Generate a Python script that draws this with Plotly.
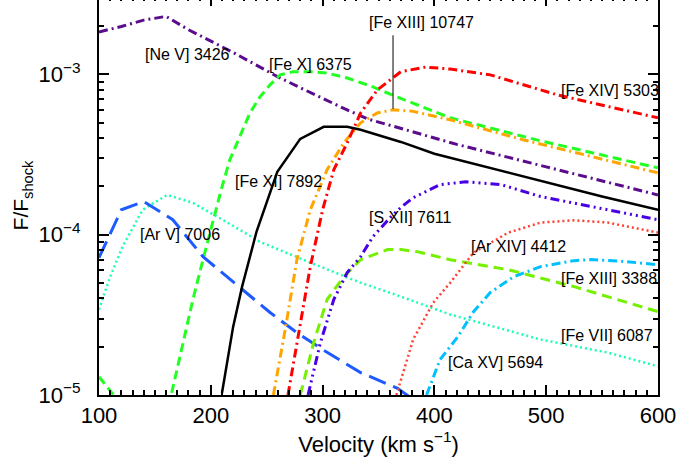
import math
import plotly.graph_objects as go

# ---------------- data ----------------
ne5_v   = [100, 120, 140, 160, 180, 200, 220, 240, 260, 280, 300, 320, 340, 380, 420, 500, 600]
ne5_f   = [1.84e-3, 1.99e-3, 2.18e-3, 2.30e-3, 1.90e-3, 1.62e-3, 1.37e-3, 1.15e-3, 9.65e-4,
           8.26e-4, 7.08e-4, 6.09e-4, 5.28e-4, 4.38e-4, 3.66e-4, 2.65e-4, 1.77e-4]

fe10_v  = [165, 173, 184, 193, 202, 210, 217, 226, 235, 244, 253, 262, 274, 289, 304, 322,
           345, 361, 414, 495, 600]
fe10_f  = [1.03e-5, 1.84e-5, 3.94e-5, 6.98e-5, 1.24e-4, 1.99e-4, 2.93e-4, 4.08e-4, 5.75e-4,
           7.24e-4, 8.6e-4, 9.93e-4, 1.04e-3, 1.04e-3, 1.02e-3, 9.5e-4, 8.36e-4, 7.5e-4,
           5.36e-4, 3.85e-4, 2.61e-4]

green_low_v = [100, 120]
green_low_f = [1.3e-5, 8.7e-6]

fe11_v  = [210, 220, 228, 241, 259.5, 280, 301, 322, 334, 370, 400, 450, 500, 550, 600]
fe11_f  = [1.03e-5, 2.67e-5, 4.74e-5, 1.05e-4, 2.47e-4, 3.96e-4, 4.71e-4, 4.71e-4, 4.51e-4,
           3.79e-4, 3.2e-4, 2.6e-4, 2.12e-4, 1.73e-4, 1.43e-4]

fe14_v  = [269, 280, 289, 300, 310, 322, 334, 349, 370, 392, 414, 450, 510, 560, 600]
fe14_f  = [1.0e-5, 2.67e-5, 6.32e-5, 1.43e-4, 2.54e-4, 3.74e-4, 5.75e-4, 8.0e-4, 1.04e-3,
           1.11e-3, 1.08e-3, 9.93e-4, 7.45e-4, 6.2e-4, 5.36e-4]

fe13r_v = [256, 267, 277, 289, 304, 319, 334, 349, 363, 380, 414, 480, 540, 600]
fe13r_f = [1.0e-5, 2.67e-5, 6.98e-5, 1.43e-4, 2.54e-4, 3.74e-4, 4.99e-4, 5.75e-4, 6.01e-4,
           5.9e-4, 5.21e-4, 3.9e-4, 3.08e-4, 2.43e-4]

s12_v   = [287, 298, 310, 322, 334, 345, 361, 370, 381, 405, 428, 460, 495, 555, 600]
s12_f   = [1.0e-5, 2.12e-5, 3.94e-5, 5.8e-5, 7.29e-5, 9.72e-5, 1.29e-4, 1.48e-4, 1.7e-4,
           2.05e-4, 2.14e-4, 2.05e-4, 1.73e-4, 1.43e-4, 1.24e-4]

fe13b_v = [280, 292, 304, 319, 334, 358, 370, 385, 414, 466, 525, 600]
fe13b_f = [1.0e-5, 2.12e-5, 3.94e-5, 5.47e-5, 6.98e-5, 8.07e-5, 8.07e-5, 7.83e-5, 6.98e-5,
           6.05e-5, 4.74e-5, 3.31e-5]

ar14_v  = [366, 381, 399, 414, 435, 466, 495, 525, 555, 600]
ar14_f  = [1.0e-5, 2.22e-5, 3.77e-5, 5.0e-5, 7.73e-5, 1.03e-4, 1.19e-4, 1.23e-4, 1.19e-4, 1.03e-4]

ca15_v  = [393, 405, 421, 435, 450, 471, 495, 525, 540, 570, 600]
ca15_f  = [1.0e-5, 1.66e-5, 2.31e-5, 3.31e-5, 4.36e-5, 5.47e-5, 6.32e-5, 6.89e-5, 7.0e-5,
           6.8e-5, 6.5e-5]

fe7_v   = [100, 110, 121, 139, 161, 184, 215, 244, 289, 334, 370, 414, 495, 555, 600]
fe7_f   = [3.41e-5, 5.47e-5, 8.41e-5, 1.43e-4, 1.77e-4, 1.58e-4, 1.19e-4, 9.03e-5, 6.7e-5,
           5.02e-5, 4.11e-5, 3.18e-5, 2.22e-5, 1.84e-5, 1.51e-5]

ar5_v   = [100, 120, 140, 166, 193, 229, 253, 277, 300, 334, 367, 380]
ar5_f   = [7.19e-5, 1.43e-4, 1.61e-4, 1.24e-4, 7.29e-5, 4.54e-5, 3.27e-5, 2.45e-5, 1.92e-5,
           1.38e-5, 1.1e-5, 9.5e-6]

# line labels and where they sit (velocity, F/F_shock of the left edge of the text)
label_text = ["[Ne V] 3426", "[Fe X] 6375", "[Fe XIII] 10747", "[Fe XIV] 5303", "[Fe XI] 7892",
              "[Ar V] 7006", "[S XII] 7611", "[Ar XIV] 4412", "[Fe XIII] 3388", "[Fe VII] 6087",
              "[Ca XV] 5694"]
label_v    = [139.4, 250.5, 340, 511, 220, 135, 340, 430.6, 511, 511, 410]
label_f    = [1.34e-3, 1.16e-3, 2.12e-3, 7.89e-4, 2.14e-4, 1.01e-4, 1.28e-4, 8.41e-5, 5.32e-5,
              2.35e-5, 1.60e-5]

x_ticks = [100, 200, 300, 400, 500, 600]
y_ticks = [1e-5, 1e-4, 1e-3]
y_tick_text = ["10<sup>\u22125</sup>", "10<sup>\u22124</sup>", "10<sup>\u22123</sup>"]

# ---------------- styles ----------------
DASHDOT = "9px,4px,2px,4px"
DASH = "9px,5px"
DOT = "2px,3px"

series = [
    (ne5_v, ne5_f, "#5a0c8c", DASHDOT, 3),
    (green_low_v, green_low_f, "#22ff22", DASH, 3),
    (fe10_v, fe10_f, "#22ff22", DASH, 3),
    (fe7_v, fe7_f, "#1affb4", DOT, 2.5),
    (ar5_v, ar5_f, "#1e5aff", "18px,8px", 3),
    (fe13b_v, fe13b_f, "#74f000", "10px,6px", 3),
    (ar14_v, ar14_f, "#ff4030", DOT, 2.5),
    (ca15_v, ca15_f, "#00c0ff", DASHDOT, 3),
    (s12_v, s12_f, "#4a00e6", "9px,4px,2px,4px,2px,4px,2px,4px", 3),
    (fe13r_v, fe13r_f, "#ffa500", DASHDOT, 3),
    (fe14_v, fe14_f, "#ff0000", DASHDOT, 3),
    (fe11_v, fe11_f, "#000000", "solid", 2.5),
]

fig = go.Figure()
for v, f, col, dash, w in series:
    fig.add_trace(go.Scatter(x=v, y=f, mode="lines",
                             line=dict(color=col, dash=dash, width=w),
                             showlegend=False, hoverinfo="skip"))

FONT = "Liberation Sans, Arial, sans-serif"
ann = []
for t, v, f in zip(label_text, label_v, label_f):
    ann.append(dict(x=v, y=math.log10(f), text=t, showarrow=False, xanchor="left",
                    yanchor="middle", font=dict(family=FONT, size=16, color="black"),
                    xref="x", yref="y"))

# pointer to the peak of [Fe XIII] 10747
ipk = max(range(len(fe13r_f)), key=lambda i: fe13r_f[i])
ann.append(dict(x=fe13r_v[ipk], y=math.log10(fe13r_f[ipk]), text="", showarrow=True,
                arrowhead=0, arrowwidth=1, arrowcolor="black", ax=0, ay=-76,
                xref="x", yref="y", standoff=1))

minor_y = [m * 10.0 ** e for e in (-5, -4, -3) for m in range(2, 10)]

fig.update_layout(
    width=698, height=468,
    margin=dict(l=99, r=40, t=0, b=69, autoexpand=False),
    paper_bgcolor="white", plot_bgcolor="white",
    font=dict(family=FONT, color="black"),
    annotations=ann,
    xaxis=dict(range=[100, 600], tickmode="array", tickvals=x_ticks,
               ticks="inside", ticklen=10, tickwidth=2, tickcolor="black",
               minor=dict(dtick=10, tick0=100, ticks="inside", ticklen=5, tickwidth=1.5,
                          tickcolor="black"),
               showline=True, linewidth=2, linecolor="black", mirror="allticks",
               showgrid=False, zeroline=False,
               tickfont=dict(family=FONT, size=22, color="black"),
               title=dict(text="Velocity (km s<sup>\u22121</sup>)", standoff=4,
                          font=dict(family=FONT, size=22, color="black"))),
    yaxis=dict(type="log", range=[-5, -2.511], tickmode="array", tickvals=y_ticks,
               ticktext=y_tick_text,
               ticks="inside", ticklen=10, tickwidth=2, tickcolor="black",
               minor=dict(tickmode="array", tickvals=minor_y, ticks="inside", ticklen=5,
                          tickwidth=1.5, tickcolor="black"),
               showline=True, linewidth=2, linecolor="black", mirror="allticks",
               showgrid=False, zeroline=False, ticklabelstandoff=12,
               tickfont=dict(family=FONT, size=22, color="black"),
               title=dict(text="F/F<sub>shock</sub>", standoff=4,
                          font=dict(family=FONT, size=21, color="black"))),
)

fig.write_html(
    "out.html",
    config={"displayModeBar": False},
    post_script="document.body.style.margin='0px';"
                "document.getElementById('{plot_id}').style.marginTop='-4px';",
)
